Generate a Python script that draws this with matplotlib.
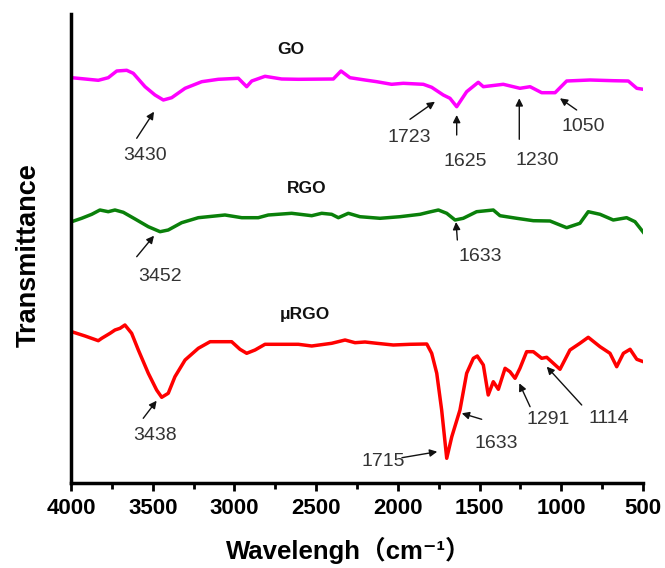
import matplotlib
matplotlib.use("Agg")
import matplotlib.pyplot as plt
from matplotlib.ticker import MultipleLocator

plt.rcParams['font.family'] = ['Liberation Sans', 'Noto Sans CJK SC', 'DejaVu Sans']

# ---- data (wavenumber cm-1, transmittance a.u.) ----
go_w = [3996, 3914, 3833, 3772, 3720, 3659, 3619, 3547, 3486, 3435, 3384, 3302, 3200, 3099,
        2976, 2925, 2894, 2813, 2711, 2609, 2395, 2348, 2293, 2201, 2129, 2038, 1967, 1844,
        1793, 1722, 1681, 1640, 1579, 1508, 1477, 1355, 1253, 1191, 1120, 1038, 967, 824,
        682, 590, 538, 498]
go_t = [405.3, 404, 402.7, 405.3, 412, 412.7, 409.7, 396.3, 388, 383, 385.3, 394.7, 401.3, 403.7,
        404.7, 396.3, 402, 406.7, 404, 403.7, 404, 412, 405.3, 403, 401.3, 398.7, 399.7, 398.7,
        395.7, 388, 384.7, 376.3, 391.3, 400.7, 396.3, 398.7, 394.7, 396.3, 390.3, 390.3, 402, 403,
        402.3, 402, 394.7, 393.7]

rgo_w = [3996, 3935, 3873, 3823, 3772, 3731, 3680, 3608, 3527, 3455, 3405, 3323, 3221, 3058,
         2955, 2854, 2793, 2650, 2527, 2466, 2405, 2364, 2303, 2232, 2109, 1987, 1864, 1814,
         1752, 1701, 1650, 1600, 1518, 1416, 1375, 1273, 1171, 1069, 967, 886, 835, 763,
         682, 600, 549, 498]
rgo_t = [261.3, 264.7, 268.7, 273, 271.3, 273, 270.7, 264, 256.3, 251.3, 253, 260.3, 265.3, 268,
         265.3, 265.3, 268, 269.7, 267.3, 269.7, 268.7, 265.3, 269.7, 266.3, 264.7, 266.3, 268.7, 270.7,
         273, 269.7, 263, 264.7, 271.3, 273, 267.3, 264.7, 262.3, 262, 255.3, 259.7, 271.3, 268.7,
         263, 265.3, 261.3, 250.7]

urgo_w = [3996, 3914, 3833, 3812, 3761, 3731, 3700, 3670, 3629, 3588, 3527, 3476, 3445, 3405,
          3364, 3302, 3221, 3149, 3017, 2966, 2925, 2874, 2813, 2609, 2527, 2405, 2323, 2262,
          2201, 2129, 2028, 1926, 1823, 1793, 1762, 1732, 1701, 1670, 1620, 1579, 1538, 1514,
          1477, 1447, 1416, 1385, 1344, 1314, 1283, 1253, 1212, 1171, 1120, 1089, 1008, 947,
          886, 835, 763, 702, 661, 620, 579, 538, 498]
urgo_t = [151.3, 147, 142.3, 144.7, 149.7, 153, 154.7, 158, 149.7, 133, 109.7, 93, 85.7, 89.7,
          106.3, 123, 134.7, 141.3, 141.3, 133.7, 129.7, 133, 138.7, 138.7, 137, 139.7, 143, 140.3,
          141, 139.7, 138, 138.7, 139, 129.7, 109.7, 73, 24.7, 46.3, 73, 109.7, 124.7, 127,
          118, 88, 101.3, 93.7, 114.7, 111.3, 104.7, 114.7, 131.3, 131.3, 124.7, 125.7, 113.7, 133,
          139.7, 145.7, 136.3, 129.7, 116.3, 129.7, 133.7, 123.7, 121.3]

series_names = ['GO', 'RGO', 'μRGO']
series_colors = ['#FF00FF', '#0A800A', '#FF0000']
name_pos = [(2656, 433.7), (2558, 294.7), (2568, 168)]

# peak annotations: label, text position, arrow tail, arrow tip
peak_labels = ['3430', '1723', '1625', '1230', '1050', '3452', '1633', '3438', '1715', '1633', '1291', '1114']
peak_text = [(3547, 328), (1930, 345.7), (1589, 321.3), (1150, 322.3), (865, 356.3),
             (3455, 206.3), (1497, 226.3),
             (3486, 47), (2089, 21.3), (1395, 39.7), (1079, 63), (712, 64.7)]
peak_tail = [(3598, 344.7), (1926, 363.7), (1640, 348), (1257, 343.7), (906, 373),
             (3598, 226.3), (1636, 243),
             (3558, 64.7), (1975, 25.3), (1487, 63.7), (1191, 76.3), (875, 78)]
peak_tip = [(3492, 371.3), (1773, 381.3), (1640, 368), (1257, 384.7), (1008, 384.7),
            (3492, 247.3), (1644, 261),
            (3476, 82.3), (1759, 31.3), (1609, 69.7), (1257, 99.7), (1089, 116.3)]

xticks = [4000, 3500, 3000, 2500, 2000, 1500, 1000, 500]

fig = plt.figure(figsize=(6.65, 5.68), dpi=100)
ax = fig.add_axes([71/665, 85/568, 572/665, 469/568])

for w, t, c in zip([go_w, rgo_w, urgo_w], [go_t, rgo_t, urgo_t], series_colors):
    ax.plot(w, t, color=c, lw=2.5, solid_joinstyle='round')

for name, (x, y) in zip(series_names, name_pos):
    ax.text(x, y, name, fontsize=12.5, fontweight='bold', ha='center', va='center', color='#111111')

for lab, tp, tl, tip in zip(peak_labels, peak_text, peak_tail, peak_tip):
    ax.annotate('', xy=tip, xytext=tl,
                arrowprops=dict(arrowstyle='-|>', color='#111111', lw=1.0, mutation_scale=11,
                                shrinkA=0, shrinkB=0))
    ax.text(tp[0], tp[1], lab, fontsize=14, ha='center', va='center', color='#333333')

ax.set_xlim(4000, 500)
ax.set_ylim(0, 469)
ax.set_xticks(xticks)
ax.set_xticklabels([str(v) for v in xticks])
ax.xaxis.set_minor_locator(MultipleLocator(250))
ax.set_yticks([])
for s in ['top', 'right']:
    ax.spines[s].set_visible(False)
ax.spines['left'].set_linewidth(2.5)
ax.spines['bottom'].set_linewidth(2.5)
ax.tick_params(axis='x', which='major', direction='out', length=6, width=2, pad=5,
               labelsize=16)
ax.tick_params(axis='x', which='minor', direction='out', length=4, width=2)
for lbl in ax.get_xticklabels():
    lbl.set_fontweight('bold')

ax.set_xlabel('Wavelengh（cm⁻¹）', fontsize=18.5, fontweight='bold')
ax.xaxis.set_label_coords(0.486, -0.115)
ax.set_ylabel('Transmittance', fontsize=19.5, fontweight='bold')
ax.yaxis.set_label_coords(-0.052, 0.486)

fig.savefig('out.png', dpi=100)
